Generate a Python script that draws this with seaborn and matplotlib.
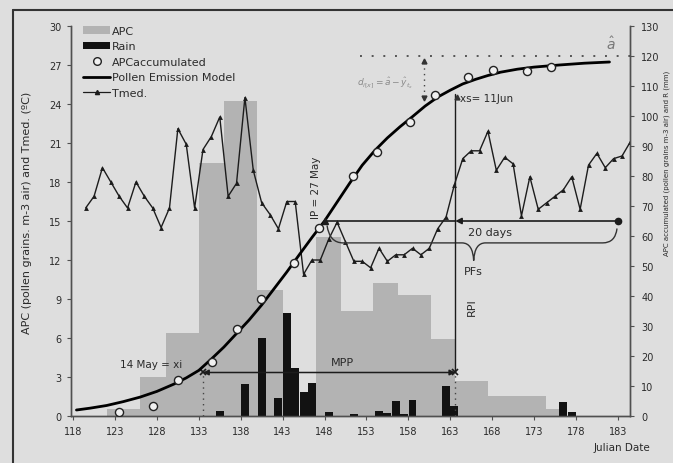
"""APC, rain, accumulated APC and Tmed against Julian date."""

import numpy as np
import matplotlib
matplotlib.use("Agg")
import matplotlib.pyplot as plt
import seaborn as sns
from matplotlib.path import Path
from matplotlib.patches import PathPatch, Patch
from matplotlib.lines import Line2D

# APC bins (Julian day edges) and APC per bin (left axis)
apc_edges = [122, 126, 129.1, 133, 136, 140, 143, 147, 150, 153.8, 156.8,
             160.7, 163.6, 167.5, 174.4, 176.7]
apc_values = [0.5, 3.0, 6.4, 19.5, 24.2, 9.7, 0.0, 13.8, 8.1, 10.2, 9.3,
              5.9, 2.7, 1.5, 0.5]

# daily rain (right axis, mm)
rain_day = [135, 138, 140, 142, 143, 144, 145, 146, 148, 151, 154, 155,
            156, 157, 158, 162, 163, 176, 177]
rain_mm = [1.8, 10.7, 26.0, 6.0, 34.3, 16.0, 8.0, 11.0, 1.2, 0.8, 1.8, 1.0,
           5.0, 0.5, 5.4, 10.0, 3.4, 4.7, 1.4]

# accumulated APC (right axis)
acc_day = [123.5, 127.5, 130.5, 134.6, 137.6, 140.4, 144.4, 147.4, 151.4,
           154.3, 158.2, 161.2, 165.1, 168.1, 172.2, 175.0]
acc_value = [1.3, 3.3, 12.0, 18.0, 29.0, 39.0, 51.0, 62.7, 80.0, 88.0,
             98.0, 107.0, 113.0, 115.3, 115.0, 116.5]

# pollen emission model (right axis)
model_day = [118.4, 120, 122, 124, 126, 128, 130, 131.5, 133, 134.5, 136,
             137.5, 139, 140.5, 142, 143.5, 145, 146.5, 148, 149.5, 151,
             152.5, 154, 155.5, 157, 158.5, 160, 161.5, 163, 164.5, 166,
             167.5, 169, 171, 173, 176, 179, 182]
model_value = [2.0, 2.6, 3.5, 4.8, 6.3, 8.2, 10.6, 12.7, 15.2, 19.0, 23.0,
               27.5, 32.0, 37.0, 42.5, 48.0, 53.8, 59.5, 65.0, 71.3, 77.6,
               83.6, 88.5, 92.7, 96.4, 99.8, 103.3, 106.3, 108.6, 110.7,
               112.2, 113.5, 114.6, 115.6, 116.3, 117.0, 117.6, 118.0]

# daily mean temperature (left axis, ºC), days 119..184
tmed_day = list(range(119, 185))
tmed = [16.0, 16.9, 19.1, 18.0, 16.9, 16.0, 18.0, 16.9, 16.0, 14.5, 16.0,
        22.1, 20.9, 16.0, 20.5, 21.5, 23.0, 16.9, 17.9, 24.5, 18.9, 16.4,
        15.5, 14.4, 16.5, 16.5, 10.9, 12.0, 12.0, 13.6, 14.9, 13.4, 11.9,
        11.9, 11.4, 12.9, 11.9, 12.4, 12.4, 12.9, 12.4, 12.9, 14.4, 15.3,
        17.8, 19.8, 20.4, 20.4, 21.9, 18.9, 19.9, 19.4, 15.4, 18.4, 15.9,
        16.4, 16.9, 17.4, 18.4, 15.9, 19.3, 20.2, 19.1, 19.8, 20.0, 21.1]

# key dates (annotation positions on the day axis)
xi_day = 133.5      # 14 May
ip_day = 148.1      # 27 May
xs_day = 163.6      # 11 Jun
end_day = 183.0

BG = '#dedede'
APC_C = '#b3b3b3'
DARK = '#1c1c1c'
TXT = '#2a2a2a'

sns.set_theme(style='ticks', rc={'axes.facecolor': BG,
                                 'figure.facecolor': BG})
plt.rcParams['font.family'] = ['DejaVu Sans']

fig = plt.figure(figsize=(6.73, 4.64), dpi=100)
ax = fig.add_axes([0.1055, 0.1013, 0.8306, 0.8405])

centers = [(a + b) / 2 for a, b in zip(apc_edges[:-1], apc_edges[1:])]
sns.histplot(x=centers, weights=apc_values, bins=apc_edges, ax=ax,
             color=APC_C, edgecolor='none', linewidth=0, alpha=1)
sns.lineplot(x=np.array(tmed_day) + 0.5, y=tmed, ax=ax, color=DARK,
             lw=1.0, marker='^', markersize=3.5, markeredgewidth=0,
             markerfacecolor=DARK, zorder=3)

ax2 = ax.twinx()
ax2.bar(np.array(rain_day) + 0.5, rain_mm, width=0.95, color='#121212',
        linewidth=0, zorder=2)
sns.lineplot(x=model_day, y=model_value, ax=ax2, color='black', lw=2,
             zorder=4)
sns.scatterplot(x=acc_day, y=acc_value, ax=ax2, s=34, facecolor='#f0f0f0',
                edgecolor='#222222', linewidth=1, zorder=5)

ax.set_xlim(117.75, 184.45)
ax.set_ylim(0, 30)
ax2.set_ylim(0, 130)
ax.set_xticks(range(118, 184, 5))
ax.set_yticks(range(0, 31, 3))
ax2.set_yticks(range(0, 131, 10))
for a in (ax, ax2):
    a.set_xlabel('')
    a.set_ylabel('')
    a.spines['top'].set_visible(False)
    for s in ('left', 'right', 'bottom'):
        a.spines[s].set_color('#505050')
        a.spines[s].set_linewidth(1)
ax.tick_params(axis='both', labelsize=7, length=3, width=0.8,
               colors='#505050', labelcolor=TXT, pad=4)
ax2.tick_params(axis='y', labelsize=7, length=3, width=0.8,
                colors='#505050', labelcolor=TXT, pad=5)

# --- annotations (right-axis coordinates) ---
ax2.plot([152.2, 184.4], [120, 120], ls=(0, (1, 5)), lw=1.4, color='#555')
ax2.text(182.1, 121.5, r'$\hat{a}$', fontsize=10, color='#777',
         ha='center', va='bottom')
ax2.text(151.9, 111.2, r'$d_{i[x]}=\hat{a}-\hat{y}_{t_x}$', fontsize=6.5,
         color='#8a8a8a', va='center')
ax2.plot([159.9, 159.9], [106.2, 118.2], ls=(0, (1, 3)), lw=1, color='#444')
ax2.plot(159.9, 118.2, marker='^', ms=3.5, color='#333', ls='none')
ax2.plot(159.9, 106.0, marker='v', ms=3.5, color='#333', ls='none')

# RPI line with xs label
ax2.plot([xs_day, xs_day], [14.5, 107.3], color=DARK, lw=1)
ax2.plot([xs_day, xs_day], [0, 14.5], ls=(0, (1, 3)), lw=1, color='#444')
ax2.plot(xs_day + 0.2, 106.3, marker='^', ms=3.5, color='#333', ls='none')
ax2.text(xs_day + 0.6, 106.0, 'xs= 11Jun', fontsize=7.5, color=TXT,
         va='center')
ax2.text(165.6, 36.7, 'RPI', rotation=90, fontsize=8, color=TXT,
         ha='center', va='center')

# IP and 20 days
ax2.text(147.0, 76.3, 'IP = 27 May', rotation=90, fontsize=7.5, color=TXT,
         ha='center', va='center')
ax2.plot([ip_day, xs_day], [65, 65], color=DARK, lw=1.2)
ax2.annotate('', xy=(xs_day, 65), xytext=(end_day, 65),
             arrowprops=dict(arrowstyle='-|>', color=DARK, lw=1.2,
                             shrinkA=0, shrinkB=0, mutation_scale=9))
ax2.plot(ip_day, 65, marker='^', ms=5, color=DARK, ls='none', zorder=6)
ax2.plot(end_day, 65, marker='o', ms=4.5, color=DARK, ls='none')
ax2.text(167.8, 61.4, '20 days', fontsize=8, color=TXT, ha='center',
         va='center')

# brace for PFs
brace = Path([(148.3, 63.5), (148.6, 57.7), (150.2, 57.7),
              (164.4, 57.7),
              (165.7, 57.7), (165.8, 51.8),
              (165.9, 57.7), (167.2, 57.7),
              (181.2, 57.7),
              (182.7, 57.7), (182.9, 62.5)],
             [Path.MOVETO, Path.CURVE3, Path.CURVE3,
              Path.LINETO,
              Path.CURVE3, Path.CURVE3,
              Path.CURVE3, Path.CURVE3,
              Path.LINETO,
              Path.CURVE3, Path.CURVE3])
ax2.add_patch(PathPatch(brace, fill=False, edgecolor='#333', lw=1))
ax2.text(165.7, 48.3, 'PFs', fontsize=8, color=TXT, ha='center',
         va='center')

# MPP
ax2.annotate('', xy=(xi_day, 14.5), xytext=(xs_day, 14.5),
             arrowprops=dict(arrowstyle='<|-|>', color=DARK, lw=1.1,
                             shrinkA=0, shrinkB=0, mutation_scale=8))
ax2.plot([xi_day, xs_day], [14.5, 14.5], marker='x', ms=4, mew=1.2,
         color=DARK, ls='none')
ax2.plot([xi_day, xi_day], [0, 14.5], ls=(0, (1, 3)), lw=1, color='#444')
ax2.text(150.1, 18.0, 'MPP', fontsize=8, color=TXT, ha='center',
         va='center')
ax2.text(123.6, 17.3, '14 May = xi', fontsize=7.5, color=TXT, va='center')

# legend
handles = [
    Patch(facecolor=APC_C, edgecolor='none', label='APC'),
    Patch(facecolor='#121212', edgecolor='none', label='Rain'),
    Line2D([], [], ls='none', marker='o', mfc='#f0f0f0', mec='#222',
           ms=5.5, label='APCaccumulated'),
    Line2D([], [], color='black', lw=2, label='Pollen Emission Model'),
    Line2D([], [], color=DARK, lw=0.9, marker='^', ms=3,
           label='Tmed.'),
]
leg = ax2.legend(handles=handles, loc='upper left',
                 bbox_to_anchor=(0.014, 1.012), frameon=False, fontsize=8,
                 handlelength=2.4, handleheight=0.7, handletextpad=0.15,
                 labelspacing=0.5, borderaxespad=0)
for t in leg.get_texts():
    t.set_color(TXT)

# axis labels
fig.text(0.040, 0.541, 'APC (pollen grains. m-3 air) and Tmed. (ºC)',
         rotation=90, fontsize=8, color=TXT, ha='center', va='center')
fig.text(0.990, 0.647, 'APC accumulated (pollen grains m-3 air) and R (mm)',
         rotation=90, fontsize=5, color=TXT, ha='center', va='center')
fig.text(0.966, 0.034, 'Julian Date', fontsize=7.5, color=TXT, ha='right',
         va='center')

# outer frame
fx = 13 / 673
fy = 1 - 11 / 464
fig.add_artist(Line2D([fx, fx], [0, fy], transform=fig.transFigure,
                      color='#333', lw=1.5))
fig.add_artist(Line2D([fx, 1], [fy, fy], transform=fig.transFigure,
                      color='#333', lw=1.5))

fig.savefig('out.png', dpi=100, facecolor=fig.get_facecolor())
